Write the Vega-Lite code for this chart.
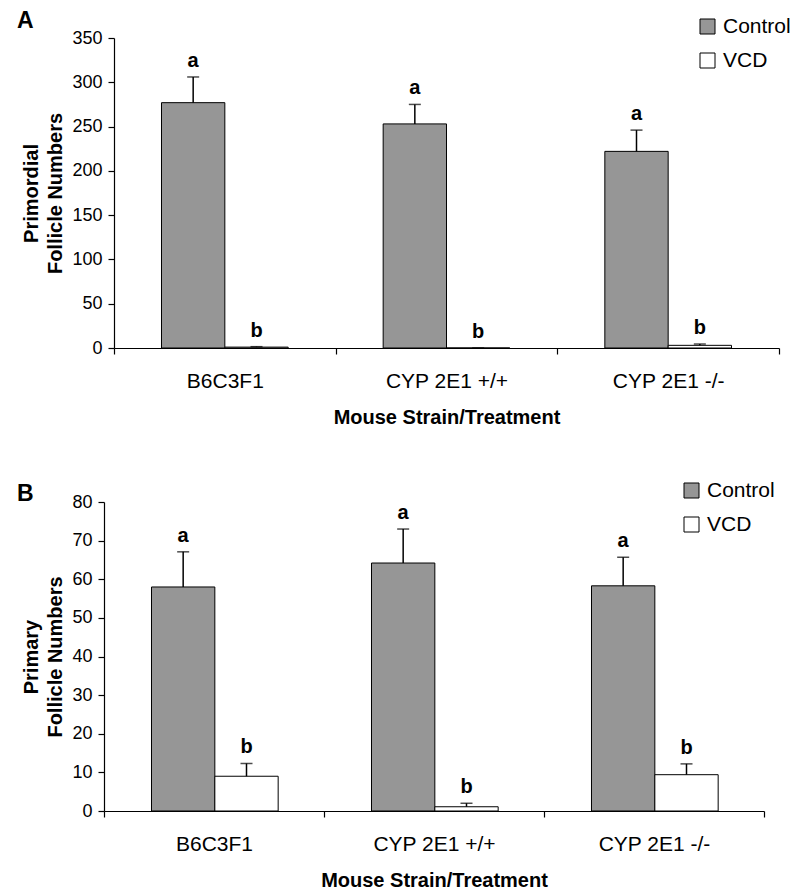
{
  "$schema": "https://vega.github.io/schema/vega-lite/v6.json",
  "padding": {"left": 16, "top": 10, "right": 2, "bottom": 0},
  "background": "white",
  "config": {
    "font": "Liberation Sans",
    "view": {"stroke": null},
    "axis": {"grid": false, "domainColor": "black", "tickColor": "black", "labelColor": "black", "titleColor": "black", "domainWidth": 1.2, "tickWidth": 1.2, "tickSize": 6, "labelFont": "Liberation Sans", "titleFont": "Liberation Sans"},
    "axisY": {"labelFontSize": 18, "labelPadding": 6, "titleFontSize": 20, "titleFontWeight": "bold", "titleLineHeight": 24, "titlePadding": 6},
    "legend": {"labelFont": "Liberation Sans"},
    "title": {"font": "Liberation Sans", "color": "black"}
  },
  "datasets": {
    "primordial": [
      {"strain": "B6C3F1", "treatment": "Control", "mean": 277, "upper": 306, "sig": "a"},
      {"strain": "B6C3F1", "treatment": "VCD", "mean": 1, "upper": 1.5, "sig": "b"},
      {"strain": "CYP 2E1 +/+", "treatment": "Control", "mean": 253, "upper": 275, "sig": "a"},
      {"strain": "CYP 2E1 +/+", "treatment": "VCD", "mean": 0, "upper": 0, "sig": "b"},
      {"strain": "CYP 2E1 -/-", "treatment": "Control", "mean": 222, "upper": 246, "sig": "a"},
      {"strain": "CYP 2E1 -/-", "treatment": "VCD", "mean": 3, "upper": 4.5, "sig": "b"}
    ],
    "primary": [
      {"strain": "B6C3F1", "treatment": "Control", "mean": 58, "upper": 67.1, "sig": "a"},
      {"strain": "B6C3F1", "treatment": "VCD", "mean": 9.0, "upper": 12.3, "sig": "b"},
      {"strain": "CYP 2E1 +/+", "treatment": "Control", "mean": 64.2, "upper": 73.0, "sig": "a"},
      {"strain": "CYP 2E1 +/+", "treatment": "VCD", "mean": 1.1, "upper": 2.0, "sig": "b"},
      {"strain": "CYP 2E1 -/-", "treatment": "Control", "mean": 58.3, "upper": 65.7, "sig": "a"},
      {"strain": "CYP 2E1 -/-", "treatment": "VCD", "mean": 9.4, "upper": 12.2, "sig": "b"}
    ]
  },
  "spacing": 53,
  "vconcat": [
    {
      "title": {"text": "A", "anchor": "start", "frame": "bounds", "fontSize": 23, "fontWeight": "bold", "offset": -17, "dx": -5},
      "width": 665,
      "height": 310,
      "data": {"name": "primordial"},
      "encoding": {
        "x": {"field": "strain", "type": "nominal", "sort": null, "scale": {"paddingInner": 0, "paddingOuter": 0},
          "axis": {"title": "Mouse Strain/Treatment", "labelAngle": 0, "tickBand": "extent", "labelFontSize": 21, "labelPadding": 16, "titleFontSize": 20, "titleFontWeight": "bold", "titlePadding": 16}},
        "xOffset": {"field": "treatment", "type": "nominal", "sort": ["Control", "VCD"], "scale": {"paddingInner": 0, "paddingOuter": 0.75}}
      },
      "layer": [
        {
          "mark": {"type": "bar", "stroke": "black", "strokeWidth": 1},
          "encoding": {
            "y": {"field": "mean", "type": "quantitative", "scale": {"domain": [0, 350], "nice": false},
              "axis": {"values": [0, 50, 100, 150, 200, 250, 300, 350], "title": ["Primordial", "Follicle Numbers"]}},
            "color": {"field": "treatment", "type": "nominal", "sort": ["Control", "VCD"], "scale": {"domain": ["Control", "VCD"], "range": ["#969696", "#ffffff"]},
              "legend": {"title": null, "orient": "none", "legendX": 583, "legendY": -22, "symbolType": "square", "symbolSize": 225, "symbolStrokeColor": "black", "symbolStrokeWidth": 1, "labelFontSize": 21, "labelOffset": 5, "rowPadding": 12, "padding": 0}}
          }
        },
        {
          "mark": {"type": "rule", "color": "black", "strokeWidth": 1.5},
          "encoding": {"y": {"field": "mean", "type": "quantitative", "axis": {"values": [0, 50, 100, 150, 200, 250, 300, 350], "title": ["Primordial", "Follicle Numbers"]}}, "y2": {"field": "upper"}}
        },
        {
          "mark": {"type": "tick", "color": "black", "size": 12, "thickness": 1.5},
          "encoding": {"y": {"field": "upper", "type": "quantitative", "axis": {"values": [0, 50, 100, 150, 200, 250, 300, 350], "title": ["Primordial", "Follicle Numbers"]}}}
        },
        {
          "mark": {"type": "text", "fontSize": 20, "fontWeight": "bold", "baseline": "bottom", "dy": -6, "color": "black"},
          "encoding": {"y": {"field": "upper", "type": "quantitative", "axis": {"values": [0, 50, 100, 150, 200, 250, 300, 350], "title": ["Primordial", "Follicle Numbers"]}}, "text": {"field": "sig"}}
        }
      ]
    },
    {
      "title": {"text": "B", "anchor": "start", "frame": "bounds", "fontSize": 23, "fontWeight": "bold", "offset": -26, "dx": -5},
      "width": 650,
      "height": 309,
      "data": {"name": "primary"},
      "encoding": {
        "x": {"field": "strain", "type": "nominal", "sort": null, "scale": {"paddingInner": 0, "paddingOuter": 0, "range": [-10, 650]},
          "axis": {"title": "Mouse Strain/Treatment", "labelAngle": 0, "tickBand": "extent", "labelFontSize": 21, "labelPadding": 16, "titleFontSize": 20, "titleFontWeight": "bold", "titlePadding": 16}},
        "xOffset": {"field": "treatment", "type": "nominal", "sort": ["Control", "VCD"], "scale": {"paddingInner": 0, "paddingOuter": 0.75}}
      },
      "layer": [
        {
          "mark": {"type": "bar", "stroke": "black", "strokeWidth": 1},
          "encoding": {
            "y": {"field": "mean", "type": "quantitative", "scale": {"domain": [0, 80], "nice": false},
              "axis": {"values": [0, 10, 20, 30, 40, 50, 60, 70, 80], "title": ["Primary", "Follicle Numbers"], "offset": 10}},
            "color": {"field": "treatment", "type": "nominal", "sort": ["Control", "VCD"], "scale": {"domain": ["Control", "VCD"], "range": ["#969696", "#ffffff"]},
              "legend": {"title": null, "orient": "none", "legendX": 567, "legendY": -22, "symbolType": "square", "symbolSize": 225, "symbolStrokeColor": "black", "symbolStrokeWidth": 1, "labelFontSize": 21, "labelOffset": 5, "rowPadding": 12, "padding": 0}}
          }
        },
        {
          "mark": {"type": "rule", "color": "black", "strokeWidth": 1.5},
          "encoding": {"y": {"field": "mean", "type": "quantitative", "axis": {"values": [0, 10, 20, 30, 40, 50, 60, 70, 80], "title": ["Primary", "Follicle Numbers"], "offset": 10}}, "y2": {"field": "upper"}}
        },
        {
          "mark": {"type": "tick", "color": "black", "size": 12, "thickness": 1.5},
          "encoding": {"y": {"field": "upper", "type": "quantitative", "axis": {"values": [0, 10, 20, 30, 40, 50, 60, 70, 80], "title": ["Primary", "Follicle Numbers"], "offset": 10}}}
        },
        {
          "mark": {"type": "text", "fontSize": 20, "fontWeight": "bold", "baseline": "bottom", "dy": -6, "color": "black"},
          "encoding": {"y": {"field": "upper", "type": "quantitative", "axis": {"values": [0, 10, 20, 30, 40, 50, 60, 70, 80], "title": ["Primary", "Follicle Numbers"], "offset": 10}}, "text": {"field": "sig"}}
        }
      ]
    }
  ],
  "resolve": {"scale": {"color": "independent"}}
}
